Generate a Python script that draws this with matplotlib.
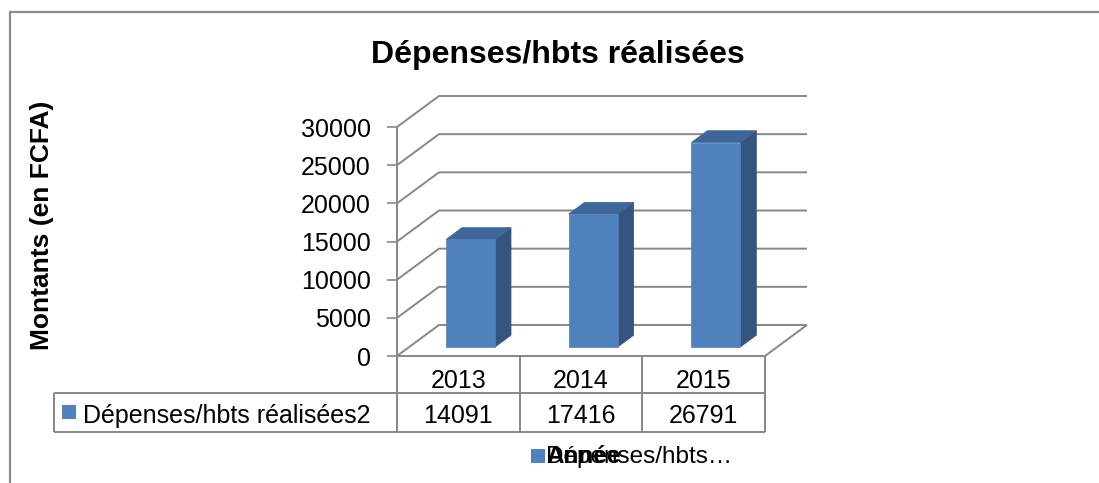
import matplotlib
matplotlib.use("Agg")
import matplotlib.pyplot as plt
from matplotlib.lines import Line2D
from matplotlib.patches import Polygon, Rectangle
from matplotlib.transforms import IdentityTransform

# ---- data ----
years = ["2013", "2014", "2015"]
values = [14091, 17416, 26791]
series_name = "Dépenses/hbts réalisées2"
title = "Dépenses/hbts réalisées"
ylabel = "Montants (en FCFA)"
yticks = [0, 5000, 10000, 15000, 20000, 25000, 30000]
legend_title = "Année"
legend_series = "Dépenses/hbts…"

plt.rcParams['font.family'] = ['Liberation Sans', 'DejaVu Sans']

W, H = 1099, 483
fig = plt.figure(figsize=(W / 100, H / 100), dpi=100)
fig.patch.set_facecolor("white")

FS = 18  # tick / table font size

# front plane of the 3D box
x0, x1 = 397, 765
y0, y1 = H - 356, H - 127
ax = fig.add_axes([x0 / W, y0 / H, (x1 - x0) / W, (y1 - y0) / H])
ax.set_xlim(-0.5, len(years) - 0.5)
ax.set_ylim(0, 30000)
ax.patch.set_visible(False)
for s in ["top", "right"]:
    ax.spines[s].set_visible(False)
grey = "#878787"
for s in ["left", "bottom"]:
    ax.spines[s].set_color(grey)
    ax.spines[s].set_linewidth(1.4)
ax.set_xticks([])
ax.set_yticks(yticks)
ax.set_yticklabels([str(t) for t in yticks])
ax.tick_params(axis="y", direction="out", length=7.2, width=1.2, color=grey,
               pad=11.8, labelsize=FS)

DX, DY = 42, 31  # full depth offset in pixels
ident = IdentityTransform()


def P(x, y, d):
    px, py = ax.transData.transform((x, y))
    return (px + d * DX, py + d * DY)


def line(pts, **kw):
    xs = [p[0] for p in pts]
    ys = [p[1] for p in pts]
    fig.add_artist(Line2D(xs, ys, transform=ident, color=grey, lw=1.4,
                          solid_capstyle="butt", **kw))


xl, xr = -0.5, len(years) - 0.5
# back wall gridlines and side wall diagonals
for t in yticks:
    line([P(xl, t, 0), P(xl, t, 1), P(xr, t, 1)], zorder=1)
# floor right edge
line([P(xr, 0, 0), P(xr, 0, 1)], zorder=1)

# bars
w = 0.4
d0, d1 = 0.29, 0.67
c_front, c_side, c_top = "#4F81BD", "#33557F", "#3E6698"
for i, v in enumerate(values):
    a, b = i - w / 2, i + w / 2
    front = [P(a, 0, d0), P(b, 0, d0), P(b, v, d0), P(a, v, d0)]
    side = [P(b, 0, d0), P(b, 0, d1), P(b, v, d1), P(b, v, d0)]
    top = [P(a, v, d0), P(b, v, d0), P(b, v, d1), P(a, v, d1)]
    for poly, c in [(side, c_side), (top, c_top), (front, c_front)]:
        fig.add_artist(Polygon(poly, closed=True, transform=ident,
                               facecolor=c, edgecolor=c, lw=0.5, zorder=3))

# ---- data table ----
yt_top = y0
yt_mid = H - 393
yt_bot = H - 432
xt_left = 54
colx = [P(xl + k, 0, 0)[0] for k in range(len(years) + 1)]
line([(xt_left, yt_mid), (colx[-1], yt_mid)], zorder=2)
line([(xt_left, yt_bot), (colx[-1], yt_bot)], zorder=2)
line([(xt_left, yt_mid), (xt_left, yt_bot)], zorder=2)
for cx in colx:
    line([(cx, yt_top), (cx, yt_bot)], zorder=2)
for i, (yr, v) in enumerate(zip(years, values)):
    cx = P(i, 0, 0)[0]
    fig.text(cx / W, (H - 388) / H, yr, ha="center", va="baseline", fontsize=FS)
    fig.text(cx / W, (H - 423) / H, str(v), ha="center", va="baseline", fontsize=FS)
fig.add_artist(Rectangle((62, H - 419), 14, 14, transform=ident,
                         facecolor=c_front, edgecolor="none"))
fig.text(83 / W, (H - 423) / H, series_name, ha="left", va="baseline", fontsize=FS)

# ---- legend (overlapping texts as in reference) ----
fig.add_artist(Rectangle((531, H - 463), 14, 14, transform=ident,
                         facecolor=c_front, edgecolor="none"))
fig.text(546 / W, (H - 463) / H, legend_series, ha="left", va="baseline", fontsize=17.5)
fig.text(546 / W, (H - 463) / H, legend_title, ha="left", va="baseline",
         fontsize=17.5, fontweight="bold")

# ---- titles ----
fig.text(558 / W, (H - 63) / H, title, ha="center", va="baseline",
         fontsize=23, fontweight="bold")
fig.text(42 / W, (H - 225) / H, ylabel, ha="center", va="center",
         fontsize=19, fontweight="bold", rotation=90)

# outer frame
fig.add_artist(Rectangle((9.5, -10), W + 20, H - 11 + 10 - 0.5, transform=ident,
                         facecolor="none", edgecolor="#8C8C8C", lw=1.6, zorder=0))

fig.savefig("out.png", dpi=100, facecolor="white")
